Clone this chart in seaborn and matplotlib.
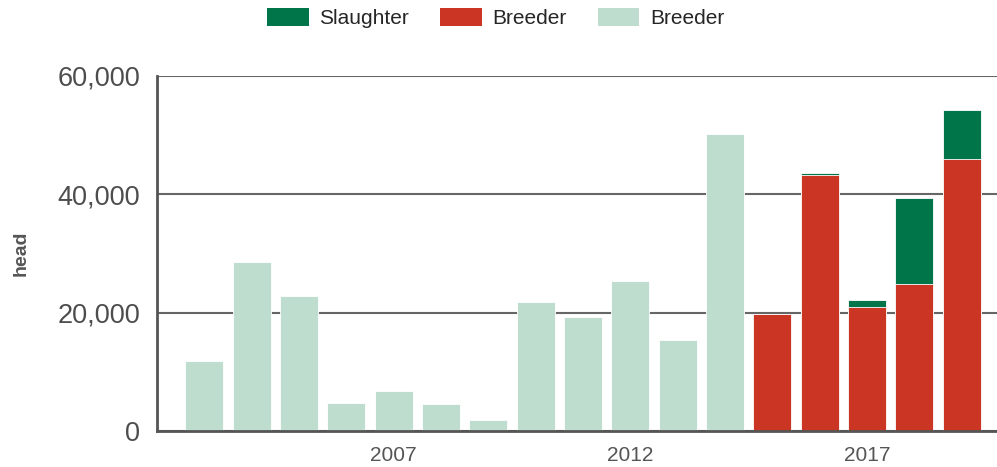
import matplotlib
matplotlib.use("Agg")
import matplotlib.pyplot as plt
import seaborn as sns
import numpy as np
from matplotlib.patches import Patch
from matplotlib.ticker import FuncFormatter

# ---- data ----
years_old = [2003, 2004, 2005, 2006, 2007, 2008, 2009, 2010, 2011, 2012, 2013, 2014]
breeder_old = [11800, 28600, 22800, 4700, 6800, 4500, 1900, 21800, 19300, 25400, 15400, 50200]
years_new = [2015, 2016, 2017, 2018, 2019]
breeder_new = [19700, 43200, 20900, 24900, 45900]
slaughter_new = [0, 400, 1300, 14500, 8300]
x_ticks = [2002, 2007, 2012, 2017]
x_tick_labels = ["", "2007", "2012", "2017"]
y_ticks = [0, 20000, 40000, 60000]
legend_labels = ["Slaughter", "Breeder", "Breeder"]

c_slaughter = "#00754a"
c_breeder = "#cb3524"
c_breeder_old = "#bfddcf"
grey = "#555555"

sns.set_style("white")
plt.rcParams["font.family"] = ["Liberation Sans", "DejaVu Sans"]

fig = plt.figure(figsize=(9.97, 4.67), dpi=100)
ax = fig.add_axes([157 / 997, 1 - 431 / 467, (18 * 47.33) / 997, (431 - 75.7) / 467])

totals_new = [b + s for b, s in zip(breeder_new, slaughter_new)]

kw = dict(native_scale=True, width=0.8, edgecolor="white", linewidth=0.6, saturation=1, zorder=3, ax=ax)
sns.barplot(x=years_old, y=breeder_old, color=c_breeder_old, **kw)
sns.barplot(x=years_new, y=totals_new, color=c_slaughter, **kw)
sns.barplot(x=years_new, y=breeder_new, color=c_breeder, **kw)

ax.set_xlim(2002, 2020)
ax.set_ylim(0, 60000)
ax.set_xticks(x_ticks)
ax.set_xticklabels(x_tick_labels, fontsize=15, color=grey)
ax.set_yticks(y_ticks)
ax.yaxis.set_major_formatter(FuncFormatter(lambda v, p: f"{int(v):,}"))
ax.tick_params(axis="y", labelsize=19.5, colors=grey, length=9, width=1.2, pad=3, labelcolor=grey)
ax.tick_params(axis="x", length=6, width=1.2, colors=grey, pad=5, labelcolor=grey)
for lbl in ax.get_yticklabels():
    lbl.set_color("#4d4d4d")

ax.grid(axis="y", color="#666666", linewidth=1.5, zorder=0)
ax.set_axisbelow(True)
for s in ["top", "right"]:
    ax.spines[s].set_visible(False)
for s in ["left", "bottom"]:
    ax.spines[s].set_color(grey)
    ax.spines[s].set_linewidth(2)
    ax.spines[s].set_zorder(4)

ax.set_xlabel("")
ax.set_ylabel("head", fontsize=14, fontweight="bold", color=grey, labelpad=20)

handles = [Patch(facecolor=c, edgecolor="none") for c in (c_slaughter, c_breeder, c_breeder_old)]
fig.legend(handles, legend_labels, loc="upper center", bbox_to_anchor=(0.497, 1.022), ncol=3,
           frameon=False, fontsize=15, handlelength=2.0, handleheight=0.9,
           columnspacing=1.5, handletextpad=0.5)

fig.savefig("out.png", dpi=100)
